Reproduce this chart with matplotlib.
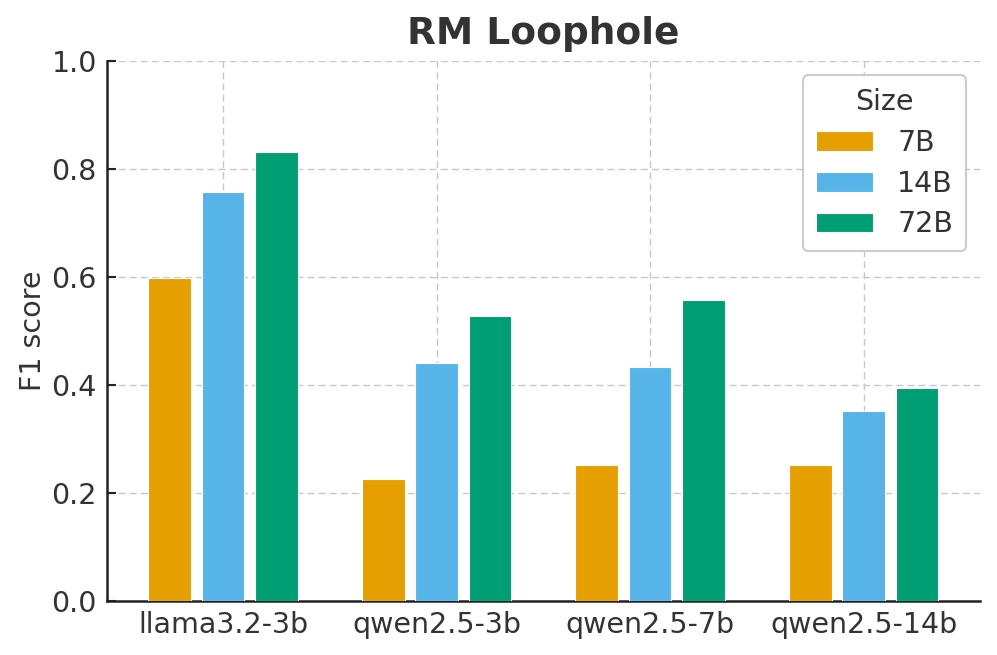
import matplotlib
matplotlib.use("Agg")
import matplotlib.pyplot as plt
import numpy as np

categories = ["llama3.2-3b", "qwen2.5-3b", "qwen2.5-7b", "qwen2.5-14b"]
sizes = ["7B", "14B", "72B"]
scores_7b = [0.598, 0.226, 0.252, 0.252]
scores_14b = [0.757, 0.441, 0.433, 0.352]
scores_72b = [0.831, 0.528, 0.558, 0.394]
colors = ["#E69F00", "#56B4E9", "#009E73"]

text_color = "#333333"
plt.rcParams['font.family'] = ['DejaVu Sans']

fig = plt.figure(figsize=(9.97, 6.55), dpi=100)
ax = fig.add_axes([0.107, 0.0824, 0.876, 0.8245])

x = np.arange(len(categories))
width = 0.2
offset = 0.25
series = [scores_7b, scores_14b, scores_72b]
for i, (vals, lab, c) in enumerate(zip(series, sizes, colors)):
    ax.bar(x + (i - 1) * offset, vals, width, label=lab, color=c,
           edgecolor="white", linewidth=0.8, zorder=3)

ax.set_xlim(-0.545, 3.545)
ax.set_ylim(0, 1.0)
ax.set_xticks(x)
ax.set_xticklabels(categories)
ax.set_yticks([0.0, 0.2, 0.4, 0.6, 0.8, 1.0])
ax.set_yticklabels(["0.0", "0.2", "0.4", "0.6", "0.8", "1.0"])

ax.grid(True, linestyle=(0, (5, 3)), color="#c8c8c8", linewidth=1.0, zorder=0)
ax.set_axisbelow(True)
for s in ["top", "right"]:
    ax.spines[s].set_visible(False)
for s in ["left", "bottom"]:
    ax.spines[s].set_color("#222222")
    ax.spines[s].set_linewidth(1.8)

ax.tick_params(axis="both", direction="in", length=6.5, width=1.5,
               colors="#222222", labelsize=20.5, labelcolor=text_color)
ax.tick_params(axis="x", pad=7)
ax.tick_params(axis="y", pad=7)

ax.set_ylabel("F1 score", fontsize=20.5, color=text_color, labelpad=3)
ax.set_title("RM Loophole", fontsize=27, fontweight="bold", color=text_color, pad=12)

leg = ax.legend(title="Size", loc="upper right", fontsize=20.5, title_fontsize=20.5,
                frameon=True, fancybox=True, handlelength=2.0, handleheight=0.7,
                handletextpad=0.85, borderpad=0.45, labelspacing=0.45,
                borderaxespad=0.5)
leg.get_frame().set_edgecolor("#cccccc")
leg.get_frame().set_linewidth(1.5)
leg.get_frame().set_facecolor("white")
leg.get_frame().set_alpha(1.0)
for t in leg.get_texts():
    t.set_color(text_color)
leg.get_title().set_color(text_color)

fig.savefig("out.png", dpi=100)
